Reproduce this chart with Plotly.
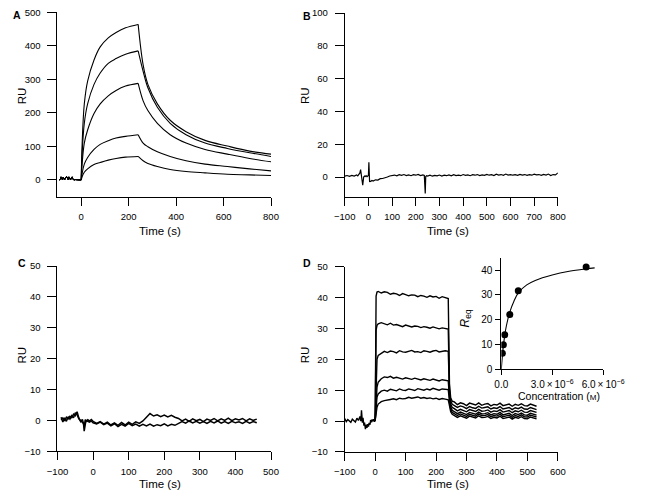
import plotly.graph_objects as go

W, H = 646, 496

# ---------------- Panel A (kinetic sensorgrams, 5 concentrations) ----------------
t_A_base = [-92, -88, -85, -82, -79, -76, -73, -70, -66, -62, -58, -55, -52, -48, -45,
            -42, -38, -35, -30, -25, -20, -15, -10, -5, 0]
ru_A_base = [0, 2, 9, 3, 0, 8, 1, 0, 7, 10, 5, 1, 9, 4, 0, 6, 9, 2, 0, 1, 0, 0, 0, 0, 0]

t_A_assoc = [0, 4, 13, 27, 54, 80, 114, 147, 187, 240]
ru_A_assoc = [
    [0, 110, 227, 295, 358, 397, 424, 440, 454, 464],
    [0, 80, 169, 227, 285, 319, 348, 362, 375, 385],
    [0, 50, 110, 149, 198, 227, 251, 267, 280, 288],
    [0, 20, 47, 67, 91, 106, 117, 125, 130, 135],
    [0, 10, 23, 33, 46, 52, 59, 64, 68, 70],
]
t_A_dissoc = [240, 261, 281, 321, 375, 442, 522, 616, 710, 800]
ru_A_dissoc = [
    [464, 343, 285, 227, 178, 144, 118, 101, 86, 77],
    [385, 324, 275, 217, 169, 135, 110, 94, 81, 70],
    [288, 236, 207, 169, 135, 110, 91, 77, 64, 54],
    [135, 110, 99, 84, 70, 57, 47, 40, 33, 27],
    [70, 57, 49, 40, 31, 25, 21, 17, 15, 13],
]

# ---------------- Panel B (reference surface) ----------------
t_B = ([-100, -90, -80, -70, -60, -50, -45, -40, -36, -33, -30, -27, -24, -20, -16, -13,
        -10, -6, -3, 0, 2, 3, 5, 7, 10, 15, 20, 30, 40, 50, 60, 70, 80, 90]
       + list(range(100, 240, 10)) + [236, 240, 242, 246] + list(range(250, 810, 10)))
ru_B = ([0.5, 0.9, 0.4, 1.0, 0.6, 1.3, 0.7, 1.8, 2.5, 4.5, 1.5, 0.2, -5.0, 0.0, 0.6, 0.3,
         0.8, 0.2, 0.6, 1.0, 9.0, 3.0, -3.0, -2.5, -2.6, -2.1, -2.5, -1.7, -1.9, -1.0,
         -0.9, -0.2, 0.0, 0.6]
        + [0.8, 1.2, 0.7, 1.4, 1.0, 1.5, 0.9, 1.3, 0.8, 1.4, 1.1, 1.6, 0.9, 1.3]
        + [1.0, -10.0, 0.3, 0.8]
        + [0.6, 1.1, 0.5, 1.0, 0.7, 1.2, 0.6, 1.1, 0.8, 1.3, 0.7, 1.4, 0.9, 1.2, 0.8, 1.5,
           1.0, 1.3, 0.8, 1.4, 1.1, 1.5, 0.9, 1.3, 1.0, 1.6, 1.1, 1.4, 0.9, 1.7, 1.2, 1.5,
           1.0, 1.8, 1.2, 1.5, 1.1, 1.4, 1.0, 1.6, 1.2, 1.5, 1.0, 1.4, 1.1, 1.7, 1.3, 1.5,
           1.0, 1.6, 1.2, 1.8, 0.9, 1.5, 1.3, 2.5])

# ---------------- Panel C (two traces) ----------------
t_C = [-90, -85, -80, -75, -70, -65, -60, -55, -50, -45, -40, -35, -30, -27, -25, -22,
       -20, -15, -10, -5] + list(range(0, 470, 10))
ru_C1 = ([1.0, -0.5, 0.8, -0.3, 1.2, 0.4, 1.5, 0.8, 2.5, 1.8, 0.5, 0.0, -0.5, -1.0, -3.5,
          -0.5, 0.0, -0.3, -0.6, -0.2]
         + [-0.8, -1.2, -0.6, -1.4, -0.9, -1.8, -1.1, -2.0, -1.3, -1.9, -1.0, -1.7, -1.2,
            -1.9, -1.3, -1.8, -1.2, -1.9, -1.4, -1.7, -1.1, -1.8, -1.3, -1.6, -0.9, -0.4,
            -0.9, -0.2, -0.8, -0.3, -0.9, -0.4, -1.0, -0.3, -0.8, -0.2, -0.9, -0.4, -1.0,
            -0.3, -0.8, -0.5, -1.0, -0.3, -0.9, -0.4, -0.8])
ru_C2 = ([0.2, 0.8, -0.2, 1.0, 0.5, 1.3, 0.9, 2.0, 1.5, 2.8, 0.8, -0.4, 0.3, -0.8, -2.0,
          0.2, -0.4, 0.2, -0.2, 0.3]
         + [-0.3, -1.0, -0.4, -1.2, -0.6, -1.5, -0.8, -1.6, -0.7, -1.5, -0.6, -1.3, -0.5,
            -1.0, -0.2, 1.0, 2.2, 1.4, 1.8, 1.2, 1.7, 1.1, 1.6, 1.0, 0.6, -0.2, 0.4, -0.3,
            0.5, -0.1, 0.3, -0.4, 0.4, 0.0, 0.6, -0.2, 0.5, 0.0, 0.7, -0.1, 0.5, 0.1, 0.6,
            -0.2, 0.5, 0.0, 0.4])

# ---------------- Panel D (steady-state sensorgrams, 6 concentrations) ----------------
t_D_base = [-100, -95, -90, -85, -80, -75, -70, -65, -60, -55, -50, -47, -45, -42, -40,
            -37, -35, -32, -30, -27, -25, -22, -20, -17, -15, -12, -10, -7, -5, -2, 0]
ru_D_base = [0.8, -0.2, 0.5, 0.0, -0.4, 0.6, 0.1, -0.3, 0.9, 0.2, 1.5, 0.0, 3.5, -0.5,
             1.0, -1.5, -0.5, -2.6, -1.2, -2.2, -1.0, -1.8, -0.6, -1.2, 0.3, -0.4, 0.5,
             0.0, 0.6, -0.2, 0.2]
t_D = [0, 3, 6] + list(range(10, 250, 10)) + [244, 248, 253] + list(range(260, 540, 10))
ru_D = [
    [0.2, 40.5, 41.8,
     42.0, 41.5, 41.9, 41.7, 41.1, 41.4, 41.2, 40.7, 41.3, 41.0, 40.6, 40.9, 40.8, 40.3,
     40.7, 40.5, 40.1, 40.6, 40.2, 40.4, 39.8, 40.3, 40.0, 39.7,
     12.0, 7.5, 6.4,
     6.2, 5.3, 5.9, 5.6, 5.0, 5.8, 5.4, 5.2, 5.9, 5.1, 5.5, 5.7, 4.9, 5.4, 5.2, 5.8, 5.0,
     5.3, 5.5, 4.8, 5.4, 5.1, 5.6, 5.0, 4.9, 5.5, 5.2, 4.8],
    [0.2, 29.5, 31.0,
     31.5, 31.9, 31.6, 31.2, 31.7, 31.1, 31.3, 31.0, 30.6, 31.1, 30.9, 30.5, 30.8, 30.7,
     30.3, 30.6, 30.4, 30.1, 30.5, 30.3, 29.9, 30.2, 30.0, 29.8,
     10.0, 6.5, 5.4,
     5.0, 4.4, 4.9, 4.6, 4.0, 4.7, 4.3, 4.1, 4.8, 4.2, 4.4, 4.6, 3.9, 4.3, 4.1, 4.7, 3.9,
     4.2, 4.4, 3.7, 4.3, 4.0, 4.5, 3.9, 3.8, 4.4, 4.1, 3.7],
    [0.2, 17.0, 20.0,
     21.3, 22.1, 22.6, 22.2, 22.7, 22.5, 22.1, 22.8, 22.4, 22.3, 22.7, 22.9, 22.4, 22.5,
     22.2, 22.8, 22.6, 22.3, 22.7, 22.9, 22.4, 22.6, 22.8, 22.6,
     9.0, 5.5, 4.4,
     4.0, 3.3, 3.8, 3.5, 3.0, 3.7, 3.3, 3.1, 3.8, 3.2, 3.3, 3.6, 2.9, 3.3, 3.1, 3.7, 2.9,
     3.2, 3.4, 2.7, 3.3, 3.0, 3.5, 2.9, 2.8, 3.4, 3.1, 2.8],
    [0.2, 8.5, 11.0,
     12.6, 13.7, 14.3, 14.1, 14.5, 13.9, 14.2, 13.9, 13.6, 14.0, 13.7, 13.5, 13.9, 13.6,
     13.3, 13.7, 13.4, 13.2, 13.6, 13.3, 13.0, 13.4, 13.1, 13.0,
     7.5, 4.5, 3.5,
     3.1, 2.4, 2.9, 2.6, 2.1, 2.8, 2.4, 2.2, 2.9, 2.3, 2.4, 2.7, 2.0, 2.4, 2.2, 2.8, 2.0,
     2.3, 2.5, 1.8, 2.4, 2.1, 2.6, 2.0, 1.9, 2.5, 2.2, 1.9],
    [0.2, 6.0, 7.8,
     8.8, 9.7, 10.0, 9.7, 10.3, 10.1, 9.8, 10.4, 10.0, 9.9, 10.4, 10.2, 9.9, 10.5, 10.2,
     10.0, 10.4, 10.1, 10.6, 10.2, 10.0, 10.4, 10.3, 10.2,
     6.5, 3.8, 2.8,
     2.4, 1.8, 2.3, 2.0, 1.5, 2.2, 1.8, 1.6, 2.3, 1.7, 1.8, 2.1, 1.4, 1.8, 1.6, 2.2, 1.4,
     1.7, 1.9, 1.2, 1.8, 1.5, 2.0, 1.4, 1.3, 1.9, 1.6, 1.3],
    [0.2, 3.0, 4.5,
     5.5, 6.3, 6.6, 6.9, 7.0, 7.2, 6.9, 7.4, 7.2, 7.3, 7.7, 7.4, 7.5, 7.8, 7.4, 7.6, 7.3,
     7.5, 7.2, 7.4, 7.0, 7.3, 7.1, 6.9,
     5.0, 3.0, 2.2,
     1.8, 1.2, 1.7, 1.4, 0.9, 1.6, 1.2, 1.0, 1.7, 1.1, 1.2, 1.5, 0.8, 1.2, 1.0, 1.6, 0.8,
     1.1, 1.3, 0.6, 1.2, 0.9, 1.4, 0.8, 0.7, 1.3, 1.0, 0.7],
]

# ---------------- Inset (steady-state affinity) ----------------
conc_M = [0.06e-6, 0.12e-6, 0.2e-6, 0.5e-6, 1.0e-6, 5.0e-6]
req = [6.4, 9.8, 13.9, 22.0, 31.6, 41.2]
conc_fit_M = [0, 0.1e-6, 0.2e-6, 0.3e-6, 0.5e-6, 0.75e-6, 1.0e-6, 1.5e-6, 2.0e-6,
              3.0e-6, 4.0e-6, 5.0e-6, 5.5e-6]
req_fit = [0, 8.0, 13.5, 17.5, 23.0, 27.5, 30.8, 34.0, 35.8, 38.0, 39.5, 40.5, 40.9]

inset_xticks = [0, 3.0e-6, 6.0e-6]
inset_xticktext = ["0.0", "3.0\u2009\u00d7\u200910<sup>\u22126</sup>",
                   "6.0\u2009\u00d7\u200910<sup>\u22126</sup>"]

FONT = "Liberation Sans, Arial, Helvetica, sans-serif"

fig = go.Figure()


def line(x, y, xa, ya, width=1.1, shape="linear"):
    fig.add_trace(go.Scatter(x=x, y=y, xaxis=xa, yaxis=ya, mode="lines",
                             line=dict(color="black", width=width, shape=shape),
                             showlegend=False, hoverinfo="skip"))


for i in range(len(ru_A_assoc)):
    line(t_A_base, ru_A_base, "x", "y", 1.0)
    line(t_A_assoc, ru_A_assoc[i], "x", "y", 1.1, "spline")
    line(t_A_dissoc, ru_A_dissoc[i], "x", "y", 1.1, "spline")

line(t_B, ru_B, "x2", "y2", 1.2)

line(t_C, ru_C1, "x3", "y3", 1.5)
line(t_C, ru_C2, "x3", "y3", 1.5)

line(t_D_base, ru_D_base, "x4", "y4", 1.4)
for series in ru_D:
    line(t_D, series, "x4", "y4", 1.4)

line(conc_fit_M, req_fit, "x5", "y5", 1.1, "spline")
fig.add_trace(go.Scatter(x=conc_M, y=req, xaxis="x5", yaxis="y5", mode="markers",
                         marker=dict(color="black", size=7), showlegend=False,
                         hoverinfo="skip"))


def px_x(p):
    return p / W


def px_y(p):
    return 1 - p / H


base_ax = dict(showline=True, linecolor="black", linewidth=1, ticks="outside",
               tickwidth=1, tickcolor="black", showgrid=False, zeroline=False,
               tickfont=dict(size=9.5, color="black", family=FONT), fixedrange=True)
xax = dict(base_ax, ticklen=8, ticklabelstandoff=3)
yax = dict(base_ax, ticklen=9, ticklabelstandoff=5)
inax = dict(base_ax, ticklen=5, ticklabelstandoff=1,
            tickfont=dict(size=10, color="black", family=FONT))

xA = [px_x(49), px_x(274)]
xB = [px_x(351.7), px_x(576.3)]

fig.update_layout(
    width=W, height=H, autosize=False,
    margin=dict(l=0, r=0, t=0, b=0),
    paper_bgcolor="white", plot_bgcolor="rgba(0,0,0,0)",
    font=dict(family=FONT, color="black", size=11),
    xaxis=dict(xax, domain=xA, range=[-100, 800], tickvals=[0, 200, 400, 600, 800],
               anchor="y"),
    yaxis=dict(yax, domain=[px_y(195), px_y(6.5)], range=[-50, 500],
               tickvals=[0, 100, 200, 300, 400, 500], anchor="x"),
    xaxis2=dict(xax, domain=xB, range=[-100, 800],
                tickvals=[-100, 0, 100, 200, 300, 400, 500, 600, 700, 800], anchor="y2"),
    yaxis2=dict(yax, domain=[px_y(195), px_y(7.3)], range=[-12, 100],
                tickvals=[0, 20, 40, 60, 80, 100], anchor="x2"),
    xaxis3=dict(xax, domain=xA, range=[-100, 500],
                tickvals=[-100, 0, 100, 200, 300, 400, 500], anchor="y3"),
    yaxis3=dict(yax, domain=[px_y(455.3), px_y(266)], range=[-10, 50],
                tickvals=[-10, 0, 10, 20, 30, 40, 50], anchor="x3"),
    xaxis4=dict(xax, domain=xB, range=[-100, 600],
                tickvals=[-100, 0, 100, 200, 300, 400, 500, 600], anchor="y4"),
    yaxis4=dict(yax, domain=[px_y(456), px_y(266.7)], range=[-10, 50],
                tickvals=[-10, 0, 10, 20, 30, 40, 50], anchor="x4"),
    xaxis5=dict(inax, domain=[px_x(516.7), px_x(624)], range=[0, 6.0e-6],
                tickvals=inset_xticks, ticktext=inset_xticktext, anchor="y5"),
    yaxis5=dict(inax, domain=[px_y(371.3), px_y(257.4)], range=[0, 45],
                tickvals=[0, 10, 20, 30, 40], anchor="x5"),
)

annotations = []


def ann(text, x, y, size=11.5, angle=0, bold=False):
    annotations.append(dict(text=("<b>%s</b>" % text) if bold else text,
                            x=px_x(x), y=px_y(y), xref="paper", yref="paper",
                            showarrow=False, textangle=angle,
                            xanchor="center", yanchor="middle",
                            font=dict(size=size, family=FONT, color="black")))


for letter, (lx, ly) in {"A": (6, 9), "B": (312, 10), "C": (12, 263), "D": (312, 263)}.items():
    ann(letter, lx, ly, 10.5, bold=True)
for (rx, ry) in [(12, 92), (310, 92), (12, 357), (310, 357)]:
    ann("RU", rx, ry, 11.5, angle=-90)
for (tx, ty) in [(157, 230), (460, 230), (157, 489), (460, 489)]:
    ann("Time (s)", tx, ty, 11.5)
ann("<i>R</i><sub>eq</sub>", 479, 320, 12, angle=-90)
ann("Concentration (<span style='font-size:8px'>M</span>)", 577, 399, 10.5)

fig.update_layout(annotations=annotations)

fig.write_html("out.html",
               config={"displayModeBar": False},
               post_script="document.body.style.margin='0';"
                           "document.body.style.overflow='hidden';")
